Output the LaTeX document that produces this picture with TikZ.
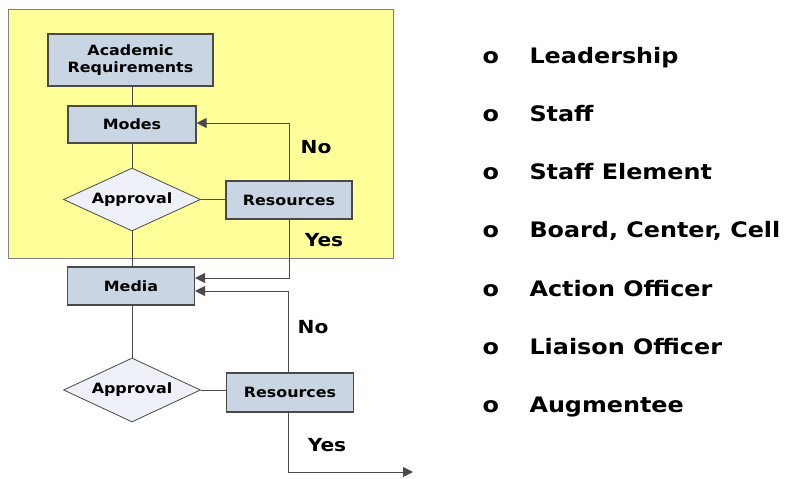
\documentclass[tikz,border=0pt]{standalone}
\usepackage{fontspec}
\setmainfont{DejaVu Sans}[FakeStretch=1.12]
\usetikzlibrary{arrows.meta,shapes.geometric}
\definecolor{yel}{HTML}{FFFF99}
\definecolor{boxfill}{HTML}{CAD5E3}
\definecolor{dmfill}{HTML}{EDF0F6}
\definecolor{edge}{HTML}{4A4A4A}
\tikzset{
  x=1pt,y=-1pt,
  proc/.style={draw=edge,line width=1.1pt,fill=boxfill,inner sep=0pt,font=\fontsize{14.2}{16.5}\selectfont\bfseries,align=center},
  dec/.style={diamond,draw=edge,line width=0.8pt,fill=dmfill,inner sep=0pt,font=\fontsize{14.2}{16.5}\selectfont\bfseries,minimum width=137pt,minimum height=63pt,aspect=2.17},
  conn/.style={draw=edge,line width=1pt},
  arr/.style={conn,-{Triangle[length=10pt,width=10pt]}},
  lbl/.style={font=\fontsize{18}{20}\selectfont\bfseries},
  item/.style={font=\fontsize{21.3}{24}\selectfont\bfseries,anchor=base west},
}
\begin{document}
\begin{tikzpicture}
\useasboundingbox (0,0) rectangle (785,479);
\fill[white] (0,0) rectangle (785,479);
\draw[fill=yel,draw=gray,line width=1pt] (8,9) rectangle (393,258);
% nodes
\node[proc,minimum width=165pt,minimum height=52pt] (acad) at (130.5,60) {Academic\\Requirements};
\node[proc,minimum width=128pt,minimum height=37pt] (modes) at (132,124.5) {Modes};
\node[dec] (app1) at (132,199.5) {Approval};
\node[proc,minimum width=126pt,minimum height=38pt] (res1) at (289,200) {Resources};
\node[proc,minimum width=127pt,minimum height=38pt] (media) at (131,286) {Media};
\node[dec,minimum height=64pt] (app2) at (132,390) {Approval};
\node[proc,minimum width=127pt,minimum height=39pt] (res2) at (290,392.5) {Resources};
\coordinate (out) at (413,472);
% connectors
\draw[conn] (acad.south -| modes.north) -- (modes.north);
\draw[conn] (modes.south) -- (app1.north);
\draw[conn] (app1.east) -- (res1.west |- app1.east);
\draw[arr] (res1.north -| 289,0) -- (289,123) -- (modes.east |- 0,123);
\draw[arr] (res1.south -| 289,0) -- (289,278) -- (media.east |- 0,278);
\draw[conn] (app1.south) -- (media.north -| app1.south);
\draw[conn] (media.south -| app2.north) -- (app2.north);
\draw[conn] (app2.east) -- (res2.west |- app2.east);
\draw[arr] (res2.north -| 288,0) -- (288,291) -- (media.east |- 0,291);
\draw[arr] (res2.south -| 288,0) -- (288,472) -- (out);
% labels
\node[lbl] (no1) at (316,147) {No};
\node[lbl] (yes1) at (324,240) {Yes};
\node[lbl] (no2) at (313,327) {No};
\node[lbl] (yes2) at (327,445) {Yes};
% list
\foreach \t [count=\i] in {Leadership,Staff,Staff Element,{Board, Center, Cell},Action Officer,Liaison Officer,Augmentee}{
  \node[item] (b\i) at (479,{63+58.3*(\i-1)}) {o};
  \node[item] (t\i) at (526,{63+58.3*(\i-1)}) {\t};
}
\end{tikzpicture}
\end{document}
